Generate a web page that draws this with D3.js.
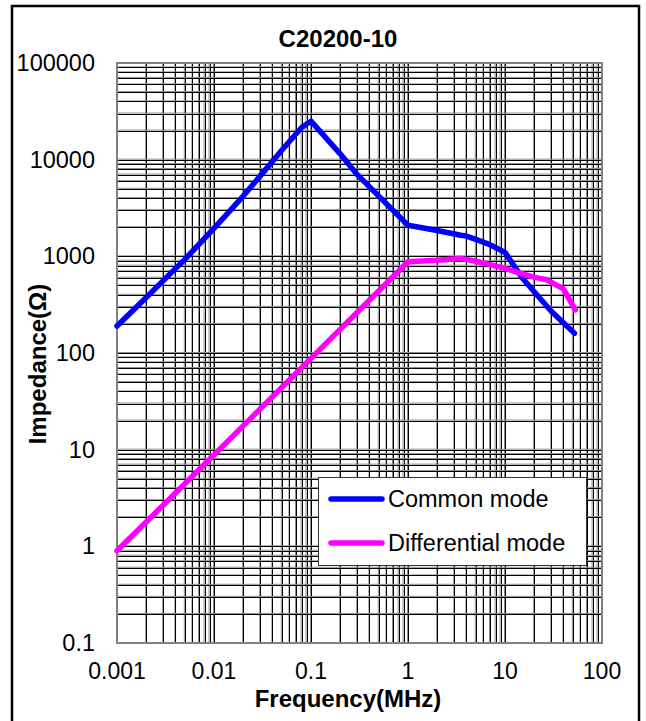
<!DOCTYPE html>
<html>
<head>
<meta charset="utf-8">
<script src="https://cdn.jsdelivr.net/npm/d3@7"></script>
<style>
  body { margin: 0; background: #fff; }
  svg { display: block; font-family: "Liberation Sans", Arial, sans-serif; }
</style>
</head>
<body>
<div id="chart"></div>
<script>
// values
const freqCM = [0.001, 0.002, 0.005, 0.01, 0.02, 0.03, 0.05, 0.08, 0.1, 0.2, 0.3, 0.5, 1, 2, 3.5, 4, 5, 7, 10, 15, 20, 30, 52];
const commonMode = [190, 375, 930, 1950, 4200, 6800, 12500, 21500, 25000, 11500, 7000, 4200, 2100, 1850, 1650, 1620, 1500, 1320, 1100, 600, 430, 270, 160];
const freqDM = [0.001, 0.01, 0.1, 1, 2, 3.5, 5, 7, 10, 15, 20, 27, 40, 53];
const diffMode = [0.9, 8.8, 88, 880, 910, 950, 890, 820, 750, 660, 610, 570, 460, 280];
const xTicks = [0.001, 0.01, 0.1, 1, 10, 100];
const xTickLabels = ["0.001", "0.01", "0.1", "1", "10", "100"];
const yTicks = [0.1, 1, 10, 100, 1000, 10000, 100000];
const yTickLabels = ["0.1", "1", "10", "100", "1000", "10000", "100000"];
const seriesNames = ["Common mode", "Differential mode"];
const seriesColors = ["#0000ff", "#ff00ff"];

const width = 646, height = 721;
const plot = {left: 117, right: 602, top: 63, bottom: 643};

const svg = d3.select("#chart").append("svg")
    .attr("width", width)
    .attr("height", height);

svg.append("rect")
    .attr("x", 12).attr("y", 6)
    .attr("width", 627).attr("height", 720)
    .attr("fill", "#fff")
    .attr("stroke", "#000")
    .attr("stroke-width", 2.5);

const x = d3.scaleLog().domain([0.001, 100]).range([plot.left, plot.right]);
const y = d3.scaleLog().domain([0.1, 100000]).range([plot.bottom, plot.top]);

// log minor grid: every k * 10^n
function logGrid(lo, hi) {
    let vals = [];
    for (let e = Math.round(Math.log10(lo)); e < Math.round(Math.log10(hi)); e++) {
        for (let k = 1; k <= 9; k++) vals.push(k * Math.pow(10, e));
    }
    vals.push(hi);
    return vals;
}

const grid = svg.append("g").attr("class", "grid");
const xGrid = logGrid(0.001, 100);
const yGrid = logGrid(0.1, 100000);

// the grid in the reference looks doubled: a grey line with a black one beside it
grid.selectAll(".vg").data(xGrid).enter().append("line")
    .attr("x1", d => x(d) - 0.5).attr("x2", d => x(d) - 0.5)
    .attr("y1", plot.top).attr("y2", plot.bottom)
    .attr("stroke", "#8a8a8a").attr("stroke-width", 1);
grid.selectAll(".vb").data(xGrid).enter().append("line")
    .attr("x1", d => Math.round(x(d)) + 0.5).attr("x2", d => Math.round(x(d)) + 0.5)
    .attr("y1", plot.top).attr("y2", plot.bottom)
    .attr("stroke", "#000").attr("stroke-width", 1);
grid.selectAll(".hg").data(yGrid).enter().append("line")
    .attr("y1", d => y(d) - 0.5).attr("y2", d => y(d) - 0.5)
    .attr("x1", plot.left).attr("x2", plot.right)
    .attr("stroke", "#8a8a8a").attr("stroke-width", 1);
grid.selectAll(".hb").data(yGrid).enter().append("line")
    .attr("y1", d => Math.round(y(d)) + 0.5).attr("y2", d => Math.round(y(d)) + 0.5)
    .attr("x1", plot.left).attr("x2", plot.right)
    .attr("stroke", "#000").attr("stroke-width", 1);

svg.append("rect")
    .attr("x", plot.left).attr("y", plot.top)
    .attr("width", plot.right - plot.left).attr("height", plot.bottom - plot.top)
    .attr("fill", "none")
    .attr("stroke", "#808080")
    .attr("stroke-width", 2);

// tick labels
svg.append("g").selectAll("text").data(xTicks).enter().append("text")
    .attr("x", d => x(d)).attr("y", 679)
    .attr("text-anchor", "middle")
    .attr("font-size", 23)
    .text((d, i) => xTickLabels[i]);

svg.append("g").selectAll("text").data(yTicks).enter().append("text")
    .attr("x", 95).attr("y", d => y(d) + 8)
    .attr("text-anchor", "end")
    .attr("font-size", 23.5)
    .text((d, i) => yTickLabels[i]);

// curves
const line = d3.line()
    .x(d => x(d[0]))
    .y(d => y(d[1]));

const series = [
    d3.zip(freqCM, commonMode),
    d3.zip(freqDM, diffMode)
];

svg.append("g").selectAll("path").data(series).enter().append("path")
    .attr("d", line)
    .attr("fill", "none")
    .attr("stroke", (d, i) => seriesColors[i])
    .attr("stroke-width", 5.5)
    .attr("stroke-linecap", "round")
    .attr("stroke-linejoin", "round");

// titles
svg.append("text")
    .attr("x", 338).attr("y", 47)
    .attr("text-anchor", "middle")
    .attr("font-size", 24).attr("font-weight", "bold")
    .text("C20200-10");

svg.append("text")
    .attr("x", 348).attr("y", 707)
    .attr("text-anchor", "middle")
    .attr("font-size", 24).attr("font-weight", "bold")
    .text("Frequency(MHz)");

svg.append("text")
    .attr("transform", "translate(46,364) rotate(-90)")
    .attr("text-anchor", "middle")
    .attr("font-size", 24).attr("font-weight", "bold")
    .text("Impedance(Ω)");

// legend
const legend = svg.append("g");
legend.append("rect")
    .attr("x", 318.5).attr("y", 477.5)
    .attr("width", 268).attr("height", 88)
    .attr("fill", "#fff")
    .attr("stroke", "#333").attr("stroke-width", 1);

const legendY = [499, 543];
seriesNames.forEach((name, i) => {
    legend.append("line")
        .attr("x1", 331).attr("x2", 382)
        .attr("y1", legendY[i]).attr("y2", legendY[i])
        .attr("stroke", seriesColors[i])
        .attr("stroke-width", 5.5)
        .attr("stroke-linecap", "round");
    legend.append("text")
        .attr("x", 388).attr("y", legendY[i] + 8)
        .attr("font-size", 23.5)
        .text(name);
});
</script>
</body>
</html>
